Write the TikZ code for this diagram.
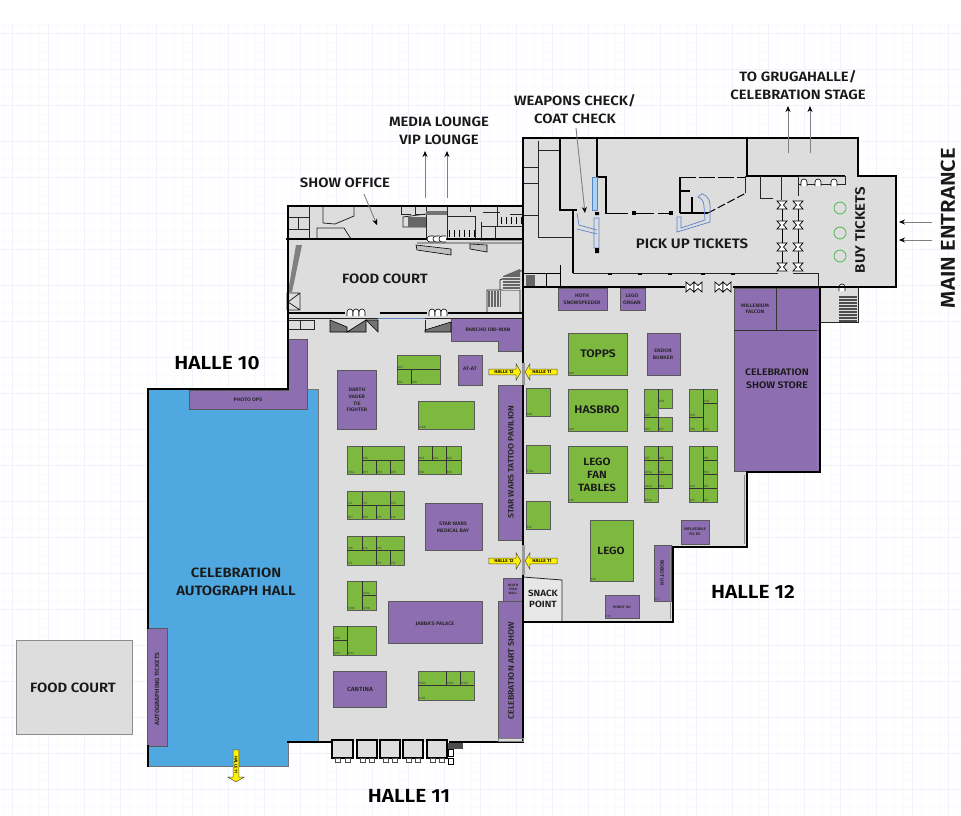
\documentclass[tikz,border=0pt]{standalone}
\usepackage{fontspec}
\setmainfont{Fira Sans}[BoldFont={Fira Sans SemiBold},FakeStretch=1.1]
\usetikzlibrary{arrows.meta,shapes.arrows}
\definecolor{floorgrey}{HTML}{DDDDDD}
\definecolor{boothgreen}{HTML}{7DB83F}
\definecolor{showpurple}{HTML}{8D6FB1}
\definecolor{hallblue}{HTML}{4FA9E0}
\definecolor{gridblue}{HTML}{EDF2FB}
\definecolor{gridfaint}{HTML}{FAFBFE}
\definecolor{queueblue}{HTML}{5B82C8}
\tikzset{
  wall/.style={line width=2pt,black,line cap=rect},
  thinwall/.style={line width=0.8pt,draw=black!85},
  booth/.style={fill=boothgreen,draw=black!65,line width=0.9pt},
  cell/.style={line width=0.7pt,black!80},
  exhibit/.style={fill=showpurple,draw=black!65,line width=0.9pt},
  queue/.style={line width=0.7pt,queueblue},
  stair/.style={fill=black!55,draw=black,line width=0.6pt},
  pointer/.style={line width=0.9pt,black!50,-{Stealth[black,length=6pt,width=5pt]}},
  biglabel/.style={font=\fontsize{19}{21}\selectfont\bfseries,text=black,inner sep=0pt},
  maplabel/.style={font=\fontsize{13.5}{18}\selectfont\bfseries,text=black!90,align=center,inner sep=0pt},
  roomlabel/.style={font=\fontsize{5}{6.6}\selectfont\bfseries,text=black!85,align=center,inner sep=0pt},
  boothno/.style={font=\fontsize{3.2}{3.2}\selectfont,text=black!75,anchor=south west,inner sep=0.4pt},
  hallarrow/.style={single arrow,draw=black!70,fill=yellow,line width=0.5pt,minimum height=32pt,
    minimum width=16pt,single arrow head extend=4pt,single arrow tip angle=120,inner sep=0.6pt,
    font=\fontsize{4.4}{4.4}\selectfont\bfseries},
  doorpair/.pic={\draw[line width=0.7pt,fill=white] (-5,-4) -- (5,-4) -- (1.5,0) -- (5,4) -- (-5,4) -- (-1.5,0) -- cycle;},
  swing/.pic={\draw[line width=0.6pt,fill=white] (-3,3) -- (-3,-1) arc[start angle=180,end angle=360,radius=3] -- (3,3);}
}
\begin{document}
\begin{tikzpicture}[x=1pt,y=-1pt]
\useasboundingbox (0,0) rectangle (961,815);
% background grid
\fill[white] (0,0) rectangle (961,815);
\foreach \x in {3,12,...,957} \draw[gridfaint,line width=0.4pt] (\x,24) -- (\x,815);
\foreach \y in {24,33,...,813} \draw[gridfaint,line width=0.4pt] (0,\y) -- (961,\y);
\foreach \x in {12,48,...,957} \draw[gridblue,line width=0.5pt] (\x,24) -- (\x,815);
\foreach \y in {33,69,...,813} \draw[gridblue,line width=0.5pt] (0,\y) -- (961,\y);
% floor
\fill[floorgrey] (287,206) -- (523,206) -- (523,138) -- (858,138) -- (858,176) -- (896,176) -- (896,287)
  -- (858,287) -- (858,322) -- (820,322) -- (820,472) -- (747,472) -- (747,547) -- (673,547) -- (673,622)
  -- (523,622) -- (523,742) -- (288,742) -- cycle;
\fill[hallblue,draw=black!55,line width=0.8pt] (148,389) -- (318,389) -- (318,742) -- (288,742) -- (288,766) -- (148,766) -- cycle;
\draw[fill=floorgrey,draw=black!45,line width=0.8pt] (16,640) rectangle (132,734);
% snack point
\draw[thinwall,fill=floorgrey!70!white] (523,577) -- (562,580) -- (562,622) -- (523,622) -- cycle;
% purple areas
\draw[exhibit] (288,339) -- (307,339) -- (307,409) -- (189,409) -- (189,390) -- (288,390) -- cycle;
\draw[exhibit] (147,628) rectangle (167,746);
\draw[exhibit] (451,318) -- (523,318) -- (523,351) -- (498,351) -- (498,341) -- (451,341) -- cycle;
\draw[exhibit] (458,355) rectangle (482,385);
\draw[exhibit] (337,370) rectangle (376,429);
\draw[exhibit] (425,503) rectangle (482,550);
\draw[exhibit] (388,601) rectangle (482,643);
\draw[exhibit] (333,671) rectangle (386,707);
\draw[exhibit] (498,385) rectangle (523,540);
\draw[exhibit] (498,601) rectangle (523,738);
\draw[exhibit] (503,578) rectangle (523,601);
\draw[exhibit] (558,288) rectangle (607,310);
\draw[exhibit] (620,288) rectangle (645,310);
\draw[exhibit] (647,333) rectangle (680,375);
\draw[exhibit] (734,288) rectangle (820,471);
\draw[cell] (734,330) -- (820,330) (776,288) -- (776,330);
\draw[exhibit] (681,520) rectangle (709,544);
\draw[exhibit] (654,545) rectangle (671,601);
\draw[exhibit] (605,595) rectangle (639,618);
% green booths, hall 11
\draw[booth] (397,355) rectangle (440,384);
\draw[cell] (397,369) -- (440,369) (411,369) -- (411,384);
\draw[booth] (418,401) rectangle (474,429);
\draw[booth] (347,446) rectangle (404,474);
\draw[cell] (362,446) -- (362,474) (362,460) -- (404,460) (376,460) -- (376,474) (390,460) -- (390,474);
\draw[booth] (418,446) rectangle (461,474);
\draw[cell] (418,460) -- (461,460) (432,446) -- (432,460) (446,446) -- (446,474);
\draw[booth] (347,491) rectangle (404,519);
\draw[cell] (347,505) -- (404,505) (362,491) -- (362,519) (390,491) -- (390,519) (376,505) -- (376,519);
\draw[booth] (347,536) rectangle (404,565);
\draw[cell] (347,550) -- (404,550) (362,536) -- (362,550) (376,536) -- (376,565) (390,550) -- (390,565);
\draw[booth] (347,581) rectangle (376,610);
\draw[cell] (362,581) -- (362,610) (362,595) -- (376,595);
\draw[booth] (333,626) rectangle (376,655);
\draw[cell] (347,626) -- (347,655) (333,640) -- (347,640);
\draw[booth] (418,671) rectangle (474,700);
\draw[cell] (418,685) -- (474,685) (446,671) -- (446,685) (460,671) -- (460,685);
% green booths, hall 12
\draw[booth] (568,333) rectangle (627,375);
\draw[booth] (568,389) rectangle (627,431);
\draw[booth] (568,446) rectangle (627,502);
\draw[booth] (590,520) rectangle (633,581);
\draw[booth] (526,388) rectangle (550,416);
\draw[booth] (526,445) rectangle (550,473);
\draw[booth] (526,501) rectangle (550,529);
\draw[booth] (644,389) -- (672,389) -- (672,408) -- (658,408) -- (658,417) -- (672,417) -- (672,431) -- (644,431) -- cycle;
\draw[cell] (658,389) -- (658,408) (658,417) -- (658,431) (644,417) -- (658,417);
\draw[booth] (689,389) rectangle (717,431);
\draw[cell] (703,389) -- (703,431) (703,403) -- (717,403) (689,417) -- (703,417);
\draw[booth] (644,446) -- (672,446) -- (672,488) -- (658,488) -- (658,502) -- (644,502) -- cycle;
\draw[cell] (658,446) -- (658,488) (644,460) -- (672,460) (644,474) -- (672,474) (644,488) -- (672,488);
\draw[booth] (689,446) rectangle (717,502);
\draw[cell] (703,446) -- (703,502) (703,460) -- (717,460) (703,474) -- (717,474) (689,488) -- (717,488);
% booth numbers
\foreach \x/\y/\n in {397/369/601,397/384/704,411/384/706,418/429/1306,347/474/706a,362/460/610,362/474/901,376/474/903,390/474/905,
  418/460/806,432/460/804,446/460/802,418/474/708,446/474/803,347/505/714,362/505/712,390/505/710,347/519/907,362/519/909,376/519/911,390/519/913,
  347/550/916,362/550/914,376/550/912,347/565/715,376/565/717,390/565/719,362/595/1204,347/610/1206,362/610/1208,333/640/1210,333/655/1212,347/655/1214,
  418/685/1504,446/685/1502,460/685/1500,418/700/1401,568/375/300,568/431/400,568/502/316,590/581/326,526/416/408,526/473/316a,526/529/324,
  658/403/208,644/417/205,644/431/203,658/431/201,703/403/130,689/417/128,689/431/126,703/431/124,644/460/207,658/460/206,644/474/205a,658/474/204,
  644/488/203a,658/488/202,644/502/201a,703/460/116,703/474/118,689/488/120,703/488/122,689/502/125,703/502/127,654/601/527,605/618/618}
  \node[boothno] (no\n) at (\x,\y) {\n};
% food court: office strip
\draw[thinwall] (309,206) -- (309,239) (287,217) -- (309,217) (287,229) -- (309,229) (298,217) -- (298,229);
\draw[thinwall] (323,206) -- (323,223) -- (335,224) -- (354,216) -- (354,206);
\draw[thinwall] (317,239) -- (317,228) -- (344,228) -- (351,239);
\draw[thinwall] (401,206) -- (401,214) -- (411,214) (415,206) -- (415,214) -- (425,214);
\draw[thinwall] (426,214) -- (403,217) -- (403,227) -- (426,227);
\fill[black!60] (408,217) rectangle (426,227);
\draw[thinwall] (426,206) -- (426,239) (447,206) -- (447,239);
\fill[black!55] (426,211) rectangle (447,215);
\draw[thinwall] (447,216) -- (475,216) -- (475,239);
\draw[thinwall] (470,206) -- (470,212) (481,222) -- (481,239) (481,226) -- (523,226);
\draw[thinwall] (483,212) -- (500,212) (497,206) -- (497,226) (495,226) -- (495,239) (510,214) -- (523,214);
\foreach \x in {449,454,...,474} \draw[black,line width=1pt] (\x,230) -- (\x,237);
\foreach \x in {501,506,...,521} \draw[black,line width=1pt] (\x,217) -- (\x,224);
% food court: stairs
\draw[stair,fill=black!25] (416,245) -- (451,249) -- (451,255) -- (417,250) -- cycle;
\draw[stair,fill=black!25] (470,244) -- (487,245) -- (487,252) -- (470,249) -- cycle;
\fill[black!50] (296,245) -- (302,245) -- (292,292) -- (288,292) -- cycle;
\draw[thinwall] (287,293) rectangle (300,310) (300,293) -- (288,302) -- (300,310);
\draw[thinwall] (480,240) -- (523,240) (417,243) -- (523,243) (523,270) -- (500,280) -- (500,290) -- (487,290) -- (487,313) (500,290) -- (520,290) -- (520,313);
\fill[black!60] (503,276) -- (520,269) -- (520,290) -- (503,290) -- cycle;
\fill[black!60] (488,291) rectangle (501,307);
\foreach \y in {277,280,...,289} \draw[floorgrey,line width=0.4pt] (503,\y) -- (520,\y);
\foreach \x in {490,493,...,499} \draw[floorgrey,line width=0.4pt] (\x,291) -- (\x,307);
\draw[wall] (287,239) -- (523,239);
\draw[line width=1.4pt] (287,313) -- (345,313) (380,313) -- (427,313) (448,313) -- (523,313);
\draw[thinwall] (287,318) -- (523,318);
\draw[thinwall] (287,320) rectangle (314,329) (300,320) -- (300,329);
\foreach \x in {350,356,362,432,438,444} \pic at (\x,313) {swing};
\foreach \x in {431,437,443} \pic[rotate=90] at (\x,239) {swing};
\draw[stair] (330,320) -- (330,332) -- (347,332) -- (347,327) -- cycle;
\draw[stair] (347,332) -- (366,320) -- (366,332) -- cycle;
\draw[stair] (366,320) -- (378,332) -- (378,320) -- cycle;
\draw[stair] (425,330) -- (451,322) -- (451,332) -- (425,332) -- cycle;
\draw[thinwall] (425,320) -- (425,332);
\draw[queue,line width=1pt] (378,318) -- (425,318);
% pick up area
\draw[thinwall] (523,167) -- (538,167) (523,183) -- (538,183) (523,215) -- (538,215) (538,150) -- (538,237) -- (574,237);
\draw[thinwall] (538,150) -- (560,150) (538,141) -- (538,150);
\draw[wall,line width=1.4pt] (560,139) -- (560,210) -- (576,210);
\draw[wall,line width=1.4pt] (597,139) -- (597,177) -- (606,177) -- (606,213);
\draw[fill=hallblue!50,draw=queueblue,line width=0.5pt] (592,177) rectangle (597,210);
\draw[line width=1.2pt] (573,210) -- (573,273);
\draw[queue] (577,213) -- (579,225) -- (597,230) (577,229) -- (597,234) (594,218) rectangle (599,248);
\fill[black] (595,212) rectangle (599,215) (595,248) rectangle (599,253);
\draw[line width=0.7pt,dash pattern=on 22pt off 4pt] (606,213) -- (670,213);
\foreach \x in {634,671} \fill[black] (\x-2,211) rectangle (\x+2,215);
\draw[line width=1.4pt] (680,213) -- (708,213);
\draw[line width=1pt,dash pattern=on 8pt off 3pt] (708,213) -- (746,193);
\draw[line width=1.2pt] (680,177) -- (680,213) (680,191) -- (690,191) (692,197) -- (692,213);
\draw[line width=1pt,dash pattern=on 16pt off 3pt] (680,177) -- (745,177);
\draw[queue] (677,217) -- (677,232) -- (710,222) -- (710,205) arc[start angle=0,end angle=-70,radius=12] -- (698,197) arc[start angle=-70,end angle=0,radius=9] -- (705,220) -- (681,228) -- (681,217) -- cycle;
\draw[line width=1.4pt] (747,138) -- (747,176) -- (845,176);
\draw[thinwall] (745,176) -- (745,193) (760,176) -- (760,198) -- (773,198) (781,176) -- (781,200) (798,176) -- (798,196);
\draw[thinwall] (798,176) -- (845,176) -- (845,184) -- (798,184);
\pic at (804,183) {swing};
\pic at (818,183) {swing};
\pic at (834,183) {swing};
\foreach \x in {782,798} {
  \draw[line width=1pt] (\x,205) -- (\x,270);
  \foreach \y in {205,225,247,267} \pic at (\x,\y) {doorpair};
}
\foreach \y in {208,233,256} \draw[line width=0.8pt,draw=green!60!black!70!white] (840,\y) circle [radius=6];
\draw[thinwall] (573,273) -- (778,273) (793,273) -- (818,273) -- (818,288);
\draw[line width=1pt] (523,273) -- (560,273) (546,273) -- (546,287) (560,265) -- (560,287);
\fill[black!60] (526,275) rectangle (535,287);
\foreach \x in {610,640,670,703,733} \fill[black] (\x-2,273) rectangle (\x+2,275);
\foreach \x in {690,698,719,727} \pic[rotate=90] at (\x,287) {doorpair};
\draw[wall] (523,287) -- (684,287) (734,287) -- (820,287);
% stairs by the falcon
\fill[black!70] (839,296) rectangle (857,322);
\foreach \y in {298,301,...,322} \draw[floorgrey,line width=0.4pt] (839,\y) -- (857,\y);
\pic at (842,288) {swing};
% outer walls
\draw[wall,line width=1.5pt] (523,206) -- (523,138) -- (858,138) -- (858,176) -- (896,176) -- (896,287) -- (820,287);
\draw[wall,line width=1.5pt] (148,389) -- (288,389) -- (288,206) -- (523,206);
\draw[wall,line width=1.4pt] (148,389) -- (148,628) (148,746) -- (148,766);
\draw[wall,line width=1.4pt] (820,287) -- (820,472) -- (747,472) -- (747,547) -- (673,547) -- (673,622) -- (523,622);
\draw[black!45,line width=1pt] (817,330) -- (817,469) (744,475) -- (744,544) (670,550) -- (670,619);
\draw[thinwall] (820,322) -- (858,322) -- (858,287);
\draw[wall] (523,206) -- (523,363) (523,385) -- (523,545) (523,575) -- (523,742) -- (450,742);
\draw[black!40,line width=3pt] (523,363) -- (523,385) (523,545) -- (523,575);
\draw[wall,line width=1.2pt] (288,742) -- (332,742);
\draw[black!50,line width=0.8pt] (498,738) rectangle (523,741);
% entrance lobby at hall 11
\foreach \xa/\xb in {332/353,357/377,380/400,403/423,427/447} {
  \draw[line width=1.6pt,fill=floorgrey] (\xa,740) rectangle (\xb,758);
  \draw[black!70,line width=0.5pt,fill=white] (\xa+3,758) rectangle (\xa+8,762);
  \draw[black!70,line width=0.5pt,fill=white] (\xb-8,758) rectangle (\xb-3,762);
}
\fill[black!70] (448,743) rectangle (463,749);
\draw[black,line width=0.6pt,fill=white] (448,749) rectangle (453,756) (448,758) rectangle (453,764);
% labels
\node[maplabel] (mediaLabel) at (439,131) {MEDIA LOUNGE\\VIP LOUNGE};
\node[maplabel] (officeLabel) at (345,183) {SHOW OFFICE};
\node[maplabel] (weaponsLabel) at (575,109) {WEAPONS CHECK/\\COAT CHECK};
\node[maplabel] (stageLabel) at (798,85) {TO GRUGAHALLE/\\CELEBRATION STAGE};
\node[maplabel,rotate=90,font=\fontsize{20}{22}\selectfont\bfseries] (entranceLabel) at (948,228) {MAIN ENTRANCE};
\node[maplabel,rotate=90,font=\fontsize{13.7}{18}\selectfont\bfseries] (buyLabel) at (860,230) {BUY TICKETS};
\node[maplabel,font=\fontsize{13.7}{18}\selectfont\bfseries] (pickupLabel) at (692,244) {PICK UP TICKETS};
\node[maplabel] (foodLabel) at (385,279) {FOOD COURT};
\node[maplabel] (farFoodLabel) at (73,688) {FOOD COURT};
\node[biglabel] (halleTen) at (217,363) {HALLE 10};
\node[biglabel] (halleTwelve) at (753,592) {HALLE 12};
\node[biglabel] (halleEleven) at (409,796) {HALLE 11};
\node[maplabel] (autographLabel) at (236,582) {CELEBRATION\\AUTOGRAPH HALL};
\node[maplabel,font=\fontsize{11}{13}\selectfont\bfseries] (toppsLabel) at (598,354) {TOPPS};
\node[maplabel,font=\fontsize{11}{13}\selectfont\bfseries] (hasbroLabel) at (597,410) {HASBRO};
\node[maplabel,font=\fontsize{10.5}{13}\selectfont\bfseries] (legoFanLabel) at (597,475) {LEGO\\FAN\\TABLES};
\node[maplabel,font=\fontsize{10.5}{13}\selectfont\bfseries] (legoLabel) at (611,551) {LEGO};
\node[maplabel,font=\fontsize{9.5}{13}\selectfont\bfseries] (storeLabel) at (777,379) {CELEBRATION\\SHOW STORE};
\node[maplabel,font=\fontsize{9}{11}\selectfont\bfseries] (snackLabel) at (543,599) {SNACK\\POINT};
\node[roomlabel] (photoLabel) at (248,400) {PHOTO OPS};
\node[roomlabel] (ranchoLabel) at (488,330) {RANCHO OBI-WAN};
\node[roomlabel] (atatLabel) at (470,369) {AT-AT};
\node[roomlabel] (vaderLabel) at (357,400) {DARTH\\VADER\\TIE\\FIGHTER};
\node[roomlabel] (medicalLabel) at (453,527) {STAR WARS\\MEDICAL BAY};
\node[roomlabel] (jabbaLabel) at (435,624) {JABBA'S PALACE};
\node[roomlabel,font=\fontsize{6}{7}\selectfont\bfseries] (cantinaLabel) at (360,689) {CANTINA};
\node[roomlabel,font=\fontsize{3.2}{4}\selectfont\bfseries] (deathLabel) at (513,589) {DEATH\\STAR\\WALL};
\node[roomlabel] (hothLabel) at (582,299) {HOTH\\SNOWSPEEDER};
\node[roomlabel] (organLabel) at (632,299) {LEGO\\ORGAN};
\node[roomlabel] (endorLabel) at (663,354) {ENDOR\\BUNKER};
\node[roomlabel] (falconLabel) at (755,309) {MILLENIUM\\FALCON};
\node[roomlabel,font=\fontsize{3.8}{5}\selectfont\bfseries] (inflateLabel) at (695,532) {INFLATABLE\\R2-D2};
\node[roomlabel,font=\fontsize{3.5}{4}\selectfont\bfseries] (robotLabel) at (622,607) {ROBOT UK};
\node[roomlabel,rotate=-90] (robotSideLabel) at (662,573) {ROBOT UK};
\node[roomlabel,rotate=90,font=\fontsize{6}{7}\selectfont\bfseries] (autoTicketLabel) at (157,689) {AUTOGRAPHING TICKETS};
\node[roomlabel,rotate=90,font=\fontsize{7.8}{8}\selectfont\bfseries] (tattooLabel) at (511,462) {STAR WARS TATTOO PAVILION};
\node[roomlabel,rotate=90,font=\fontsize{8}{8}\selectfont\bfseries] (artLabel) at (511,671) {CELEBRATION ART SHOW};
% yellow arrows
\node[hallarrow] (upperTwelve) at (504,372) {HALLE 12};
\node[hallarrow,shape border rotate=180] (upperEleven) at (542,372) {HALLE 11};
\node[hallarrow] (lowerTwelve) at (504,561) {HALLE 12};
\node[hallarrow,shape border rotate=180] (lowerEleven) at (542,561) {HALLE 11};
\node[hallarrow,rotate=-90,font=\fontsize{4}{4}\selectfont\bfseries] (downEleven) at (236,765) {HALLE 11};
% pointers
\coordinate (mediaTailA) at (425,198);
\coordinate (mediaTipA) at (425,151);
\coordinate (mediaTailB) at (447,198);
\coordinate (mediaTipB) at (447,151);
\coordinate (officeTail) at (364,194);
\coordinate (officeTip) at (377,225);
\coordinate (weaponsTail) at (576,128);
\coordinate (weaponsTip) at (585,213);
\coordinate (stageTailA) at (788,153);
\coordinate (stageTipA) at (788,106);
\coordinate (stageTailB) at (810,153);
\coordinate (stageTipB) at (810,106);
\coordinate (entranceTailA) at (932,222);
\coordinate (entranceTipA) at (899,222);
\coordinate (entranceTailB) at (932,240);
\coordinate (entranceTipB) at (899,240);
\draw[pointer] (mediaTailA) -- (mediaTipA);
\draw[pointer] (mediaTailB) -- (mediaTipB);
\draw[pointer] (officeTail) -- (officeTip);
\draw[pointer] (weaponsTail) -- (weaponsTip);
\draw[pointer] (stageTailA) -- (stageTipA);
\draw[pointer] (stageTailB) -- (stageTipB);
\draw[pointer] (entranceTailA) -- (entranceTipA);
\draw[pointer] (entranceTailB) -- (entranceTipB);
\end{tikzpicture}
\end{document}
